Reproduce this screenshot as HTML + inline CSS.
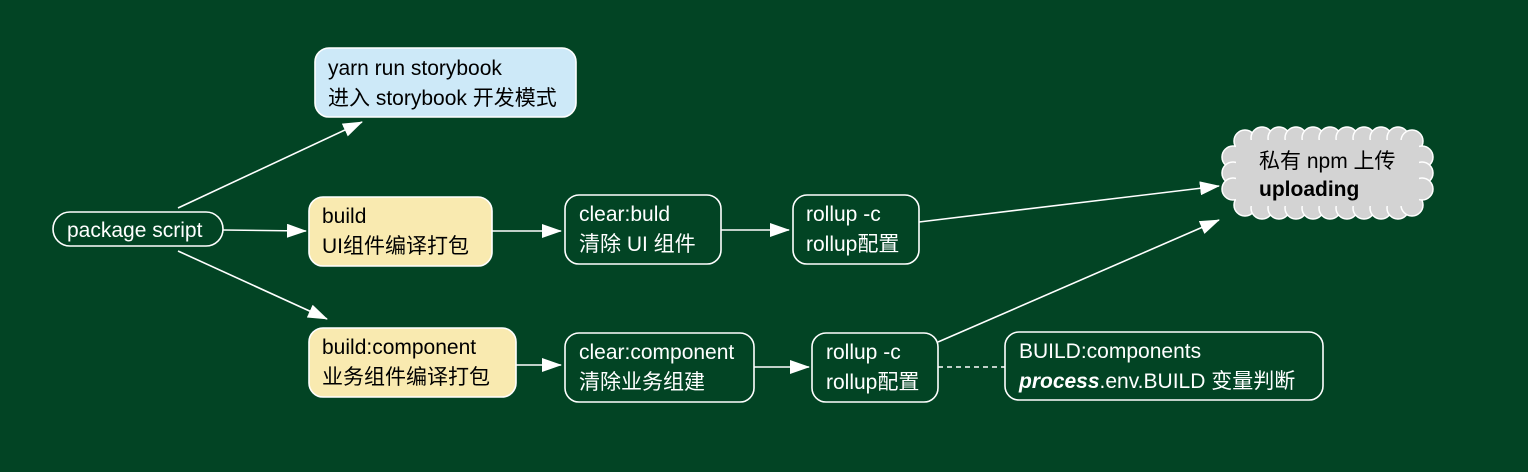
<!DOCTYPE html>
<html><head><meta charset="utf-8"><style>
html,body{margin:0;padding:0;background:#024424;}
svg{display:block}
text{font-family:"Liberation Sans","Noto Sans CJK SC",sans-serif;font-size:21px;}
</style></head><body>
<svg width="1528" height="472" viewBox="0 0 1528 472" xmlns="http://www.w3.org/2000/svg">
<defs>
<marker id="b" markerWidth="20" markerHeight="14" refX="19" refY="7" orient="auto" markerUnits="userSpaceOnUse">
<path d="M0,0 L20,7 L0,14 z" fill="#fff"/>
</marker>
</defs>
<rect width="1528" height="472" fill="#024424"/>
<g stroke="#fff" stroke-width="1.6" fill="none">
<line x1="178" y1="208" x2="362" y2="122" marker-end="url(#b)"/>
<line x1="223" y1="230" x2="306" y2="231" marker-end="url(#b)"/>
<line x1="178" y1="251" x2="327" y2="319" marker-end="url(#b)"/>
<line x1="492" y1="231" x2="561" y2="231" marker-end="url(#b)"/>
<line x1="721" y1="230" x2="789" y2="230" marker-end="url(#b)"/>
<line x1="919" y1="222" x2="1219" y2="186" marker-end="url(#b)"/>
<line x1="516" y1="365" x2="561" y2="365" marker-end="url(#b)"/>
<line x1="754" y1="367" x2="809" y2="367" marker-end="url(#b)"/>
<line x1="938" y1="342" x2="1219" y2="220" marker-end="url(#b)"/>
<line x1="938" y1="367" x2="1005" y2="367" stroke-dasharray="5,4"/>
</g>
<rect x="53" y="212" width="170" height="34" rx="17" fill="#024424" stroke="#fff" stroke-width="1.6"/>
<text x="67" y="237" fill="#fff">package script</text>
<rect x="315" y="48" width="261" height="69" rx="14" fill="#cde9f8" stroke="#fff" stroke-width="1.6"/>
<text x="328" y="75" fill="#000">yarn run storybook</text>
<text x="328" y="105" fill="#000">进入 storybook 开发模式</text>
<rect x="309" y="197" width="183" height="69" rx="14" fill="#f9eab0" stroke="#fff" stroke-width="1.6"/>
<text x="322" y="223" fill="#000">build</text>
<text x="322" y="253" fill="#000">UI组件编译打包</text>
<rect x="309" y="328" width="207" height="69" rx="14" fill="#f9eab0" stroke="#fff" stroke-width="1.6"/>
<text x="322" y="354" fill="#000">build:component</text>
<text x="322" y="384" fill="#000">业务组件编译打包</text>
<g fill="#024424" stroke="#fff" stroke-width="1.6">
<rect x="565" y="195" width="156" height="69" rx="14"/>
<rect x="793" y="195" width="126" height="69" rx="14"/>
<rect x="565" y="333" width="189" height="69" rx="14"/>
<rect x="812" y="333" width="126" height="69" rx="14"/>
<rect x="1005" y="332" width="318" height="68" rx="14"/>
</g>
<g fill="#fff">
<text x="579" y="221">clear:buld</text>
<text x="579" y="251">清除 UI 组件</text>
<text x="806" y="221">rollup -c</text>
<text x="806" y="251">rollup配置</text>
<text x="579" y="359">clear:component</text>
<text x="579" y="389">清除业务组建</text>
<text x="826" y="359">rollup -c</text>
<text x="826" y="389">rollup配置</text>
<text x="1019" y="358">BUILD:components</text>
<text x="1019" y="388"><tspan font-weight="bold" font-style="italic">process</tspan>.env.BUILD 变量判断</text>
</g>
<g fill="#d3d3d3" stroke="#fff" stroke-width="1.5">
<circle cx="1245" cy="141" r="11"/><circle cx="1262" cy="138" r="11"/><circle cx="1279" cy="138" r="11"/><circle cx="1296" cy="138" r="11"/><circle cx="1313" cy="138" r="11"/><circle cx="1330" cy="138" r="11"/><circle cx="1347" cy="138" r="11"/><circle cx="1364" cy="138" r="11"/><circle cx="1381" cy="138" r="11"/><circle cx="1398" cy="138" r="11"/><circle cx="1412" cy="141" r="11"/>
<circle cx="1245" cy="205" r="11"/><circle cx="1262" cy="208" r="11"/><circle cx="1279" cy="208" r="11"/><circle cx="1296" cy="208" r="11"/><circle cx="1313" cy="208" r="11"/><circle cx="1330" cy="208" r="11"/><circle cx="1347" cy="208" r="11"/><circle cx="1364" cy="208" r="11"/><circle cx="1381" cy="208" r="11"/><circle cx="1398" cy="208" r="11"/><circle cx="1412" cy="205" r="11"/>
<circle cx="1233" cy="157" r="11"/><circle cx="1233" cy="173" r="11"/><circle cx="1233" cy="189" r="11"/>
<circle cx="1422" cy="157" r="11"/><circle cx="1422" cy="173" r="11"/><circle cx="1422" cy="189" r="11"/>
</g>
<rect x="1236" y="140" width="183" height="66" fill="#d3d3d3"/>
<text x="1259" y="168" fill="#000">私有 npm 上传</text>
<text x="1259" y="196" fill="#000" font-weight="bold">uploading</text>
</svg>
</body></html>
